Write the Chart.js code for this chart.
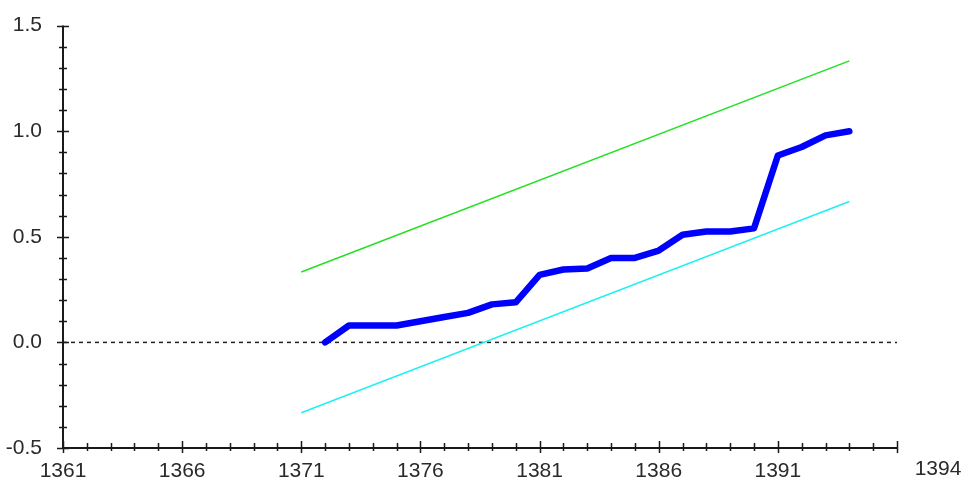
<!DOCTYPE html>
<html>
<head>
<meta charset="utf-8">
<script src="https://cdn.jsdelivr.net/npm/chart.js@4.4.1/dist/chart.umd.min.js"></script>
<style>
  html, body { margin: 0; padding: 0; background: #fff; }
  #wrap { width: 969px; height: 484px; position: relative; }
</style>
</head>
<body>
<div id="wrap"><canvas id="chart"></canvas></div>
<script>
// === Data ===
var years = [1372, 1373, 1374, 1375, 1376, 1377, 1378, 1379, 1380, 1381, 1382, 1383,
             1384, 1385, 1386, 1387, 1388, 1389, 1390, 1391, 1392, 1393, 1394];
var observed = [0.00, 0.08, 0.08, 0.08, 0.10, 0.12, 0.14, 0.18, 0.19, 0.32, 0.345, 0.35,
                0.40, 0.40, 0.435, 0.51, 0.525, 0.525, 0.54, 0.885, 0.925, 0.98, 1.00];

var bandYears = [1371, 1394];
var upperBand = [0.333, 1.333];
var lowerBand = [-0.333, 0.667];

var zeroYears = [1361, 1396];
var zeroLine = [0, 0];

var xTicks = [1361, 1366, 1371, 1376, 1381, 1386, 1391];
var xMin = 1361, xMax = 1396;
var yMin = -0.5, yMax = 1.5, yStep = 0.5;
var extraXLabel = '1394';

function toPoints(xs, ys) {
    return xs.map(function(x, i) { return { x: x, y: ys[i] }; });
}

var FONT = { family: '"Liberation Sans", Arial, sans-serif', size: 21 };
var TEXT_COLOR = '#2a2a2a';
var AXIS_COLOR = '#1a1a1a';

// Axes with ticks crossing the line, plus the stray label at the right
var axisPlugin = {
    id: 'axisPlugin',
    afterDraw: function(chart) {
        var ctx = chart.ctx;
        var xs = chart.scales.x, ys = chart.scales.y;
        var left = chart.chartArea.left, right = chart.chartArea.right;
        var top = chart.chartArea.top, bottom = chart.chartArea.bottom;
        ctx.save();
        ctx.strokeStyle = AXIS_COLOR;
        ctx.lineWidth = 2;
        ctx.beginPath();
        ctx.moveTo(left, top);
        ctx.lineTo(left, bottom);
        ctx.lineTo(right, bottom);
        ctx.stroke();

        ctx.lineWidth = 1.5;
        ctx.beginPath();
        // y ticks every 0.1
        for (var i = 0; i <= Math.round((yMax - yMin) * 10); i++) {
            var v = yMin + i / 10;
            var py = Math.round(ys.getPixelForValue(v)) + 0.5;
            var major = i % 5 === 0;
            ctx.moveTo(left - (major ? 6 : 4), py);
            ctx.lineTo(left + (major ? 6 : 4), py);
        }
        // x ticks every year
        for (var yr = xMin; yr <= xMax; yr++) {
            var px = Math.round(xs.getPixelForValue(yr)) + 0.5;
            var majorX = (yr - xMin) % 5 === 0;
            ctx.moveTo(px, bottom - (majorX ? 7 : 5));
            ctx.lineTo(px, bottom + (majorX ? 5 : 3));
        }
        ctx.stroke();

        ctx.fillStyle = TEXT_COLOR;
        ctx.font = FONT.size + 'px ' + FONT.family;
        ctx.textAlign = 'center';
        ctx.textBaseline = 'middle';
        ctx.fillText(extraXLabel, 938, 469);
        ctx.restore();
    }
};

var ctx = document.getElementById('chart').getContext('2d');
new Chart(ctx, {
    type: 'line',
    data: {
        datasets: [
            {
                data: toPoints(years, observed),
                borderColor: '#0000ff',
                borderWidth: 6.5,
                pointRadius: 0,
                tension: 0,
                borderJoinStyle: 'round',
                borderCapStyle: 'round'
            },
            {
                data: toPoints(bandYears, upperBand),
                borderColor: '#22e022',
                borderWidth: 1.5,
                pointRadius: 0
            },
            {
                data: toPoints(bandYears, lowerBand),
                borderColor: '#22f0f0',
                borderWidth: 1.5,
                pointRadius: 0
            },
            {
                data: toPoints(zeroYears, zeroLine),
                borderColor: '#222',
                borderWidth: 1.5,
                borderDash: [4, 4],
                pointRadius: 0
            }
        ]
    },
    options: {
        responsive: true,
        maintainAspectRatio: false,
        animation: false,
        events: [],
        layout: { padding: { left: 0, right: 72, top: 25, bottom: 0 } },
        plugins: {
            legend: { display: false },
            tooltip: { enabled: false }
        },
        scales: {
            x: {
                type: 'linear',
                min: xMin,
                max: xMax,
                grid: { display: false },
                border: { display: false },
                afterBuildTicks: function(scale) {
                    scale.ticks = xTicks.map(function(v) { return { value: v }; });
                },
                afterFit: function(scale) { scale.height = 36; },
                ticks: {
                    autoSkip: false,
                    maxRotation: 0,
                    padding: 3,
                    color: TEXT_COLOR,
                    font: FONT,
                    callback: function(v) { return String(v); }
                }
            },
            y: {
                min: yMin,
                max: yMax,
                grid: { display: false },
                border: { display: false },
                afterFit: function(scale) { scale.width = 63; },
                ticks: {
                    stepSize: yStep,
                    padding: 13,
                    color: TEXT_COLOR,
                    font: FONT,
                    callback: function(v) { return Number(v).toFixed(1); }
                }
            }
        }
    },
    plugins: [axisPlugin]
});
</script>
</body>
</html>
